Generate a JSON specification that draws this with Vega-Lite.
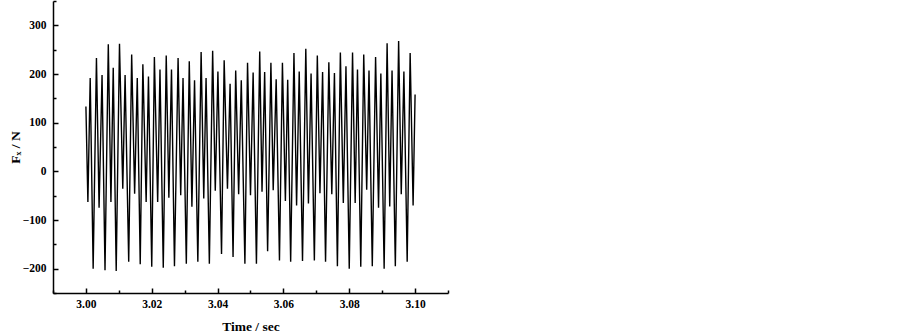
{
  "$schema": "https://vega.github.io/schema/vega-lite/v6.json",
  "width": 395,
  "height": 292,
  "autosize": {"type": "none"},
  "padding": {"left": 53, "top": 1, "right": 455, "bottom": 41},
  "background": "white",
  "config": {
    "view": {"stroke": null},
    "axis": {
      "labelFont": "Liberation Serif",
      "labelFontWeight": "bold",
      "labelFontSize": 11.5,
      "labelColor": "black",
      "titleFont": "Liberation Serif",
      "titleFontWeight": "bold",
      "titleFontSize": 13.5,
      "titleColor": "black",
      "domainColor": "black",
      "domainWidth": 1.5,
      "tickColor": "black",
      "tickWidth": 1.5,
      "grid": false
    }
  },
  "data": {
    "values": [
      {"t": 3.0000, "v": 133}, {"t": 3.0006, "v": -63}, {"t": 3.0013, "v": 192}, {"t": 3.0022, "v": -200},
      {"t": 3.0032, "v": 233}, {"t": 3.0040, "v": -75}, {"t": 3.0049, "v": 198}, {"t": 3.0058, "v": -203},
      {"t": 3.0068, "v": 261}, {"t": 3.0076, "v": -63}, {"t": 3.0083, "v": 213}, {"t": 3.0092, "v": -205},
      {"t": 3.0102, "v": 262}, {"t": 3.0112, "v": -36}, {"t": 3.0119, "v": 198}, {"t": 3.0130, "v": -186},
      {"t": 3.0139, "v": 240}, {"t": 3.0148, "v": -46}, {"t": 3.0156, "v": 192}, {"t": 3.0165, "v": -191},
      {"t": 3.0173, "v": 220}, {"t": 3.0183, "v": -63}, {"t": 3.0190, "v": 195}, {"t": 3.0200, "v": -196},
      {"t": 3.0208, "v": 235}, {"t": 3.0218, "v": -63}, {"t": 3.0225, "v": 209}, {"t": 3.0235, "v": -198},
      {"t": 3.0244, "v": 238}, {"t": 3.0252, "v": -54}, {"t": 3.0260, "v": 209}, {"t": 3.0269, "v": -195},
      {"t": 3.0280, "v": 233}, {"t": 3.0288, "v": -49}, {"t": 3.0295, "v": 192}, {"t": 3.0305, "v": -190},
      {"t": 3.0314, "v": 226}, {"t": 3.0322, "v": -73}, {"t": 3.0330, "v": 187}, {"t": 3.0340, "v": -186},
      {"t": 3.0350, "v": 245}, {"t": 3.0358, "v": -56}, {"t": 3.0365, "v": 192}, {"t": 3.0375, "v": -190},
      {"t": 3.0385, "v": 248}, {"t": 3.0393, "v": -40}, {"t": 3.0401, "v": 205}, {"t": 3.0412, "v": -170},
      {"t": 3.0420, "v": 228}, {"t": 3.0430, "v": -36}, {"t": 3.0438, "v": 180}, {"t": 3.0447, "v": -176},
      {"t": 3.0455, "v": 207}, {"t": 3.0464, "v": -47}, {"t": 3.0472, "v": 187}, {"t": 3.0483, "v": -190},
      {"t": 3.0491, "v": 223}, {"t": 3.0500, "v": -49}, {"t": 3.0508, "v": 203}, {"t": 3.0518, "v": -190},
      {"t": 3.0528, "v": 246}, {"t": 3.0535, "v": -42}, {"t": 3.0543, "v": 204}, {"t": 3.0552, "v": -164},
      {"t": 3.0562, "v": 223}, {"t": 3.0569, "v": -39}, {"t": 3.0578, "v": 189}, {"t": 3.0588, "v": -183},
      {"t": 3.0597, "v": 223}, {"t": 3.0606, "v": -61}, {"t": 3.0613, "v": 188}, {"t": 3.0622, "v": -186},
      {"t": 3.0632, "v": 243}, {"t": 3.0640, "v": -70}, {"t": 3.0648, "v": 205}, {"t": 3.0658, "v": -184},
      {"t": 3.0668, "v": 252}, {"t": 3.0676, "v": -66}, {"t": 3.0684, "v": 201}, {"t": 3.0694, "v": -183},
      {"t": 3.0703, "v": 238}, {"t": 3.0711, "v": -45}, {"t": 3.0719, "v": 204}, {"t": 3.0728, "v": -186},
      {"t": 3.0738, "v": 224}, {"t": 3.0747, "v": -47}, {"t": 3.0755, "v": 202}, {"t": 3.0764, "v": -195},
      {"t": 3.0773, "v": 244}, {"t": 3.0782, "v": -65}, {"t": 3.0790, "v": 216}, {"t": 3.0800, "v": -200},
      {"t": 3.0810, "v": 244}, {"t": 3.0818, "v": -65}, {"t": 3.0825, "v": 209}, {"t": 3.0835, "v": -196},
      {"t": 3.0844, "v": 240}, {"t": 3.0853, "v": -38}, {"t": 3.0860, "v": 207}, {"t": 3.0870, "v": -195},
      {"t": 3.0880, "v": 235}, {"t": 3.0889, "v": -75}, {"t": 3.0896, "v": 201}, {"t": 3.0906, "v": -200},
      {"t": 3.0915, "v": 263}, {"t": 3.0923, "v": -72}, {"t": 3.0930, "v": 207}, {"t": 3.0940, "v": -195},
      {"t": 3.0950, "v": 268}, {"t": 3.0958, "v": -47}, {"t": 3.0966, "v": 205}, {"t": 3.0976, "v": -186},
      {"t": 3.0985, "v": 243}, {"t": 3.0994, "v": -70}, {"t": 3.1000, "v": 158}
    ]
  },
  "mark": {"type": "line", "color": "black", "strokeWidth": 1.4, "clip": true},
  "encoding": {
    "x": {
      "field": "t",
      "type": "quantitative",
      "scale": {"domain": [2.99, 3.11], "nice": false, "zero": false},
      "axis": {
        "title": "Time / sec",
        "values": [2.99, 3.0, 3.01, 3.02, 3.03, 3.04, 3.05, 3.06, 3.07, 3.08, 3.09, 3.1, 3.11],
        "labelExpr": "round(datum.value*100) % 2 == 0 ? format(datum.value, '.2f') : ''",
        "tickSize": {"condition": {"test": "round(datum.value*100) % 2 == 0", "value": -5}, "value": -3},
        "labelPadding": 10,
        "titlePadding": 8,
        "labelOverlap": false
      }
    },
    "y": {
      "field": "v",
      "type": "quantitative",
      "scale": {"domain": [-250, 350], "nice": false, "zero": false},
      "axis": {
        "title": "Fₓ / N",
        "values": [-250, -200, -150, -100, -50, 0, 50, 100, 150, 200, 250, 300, 350],
        "labelExpr": "(round(datum.value) % 100 == 0 && datum.value > -250 && datum.value < 350) ? format(datum.value, 'd') : ''",
        "tickSize": {"condition": {"test": "round(datum.value) % 100 == 0", "value": -5}, "value": -3},
        "labelPadding": 12,
        "titlePadding": 0,
        "labelOverlap": false
      }
    }
  }
}
